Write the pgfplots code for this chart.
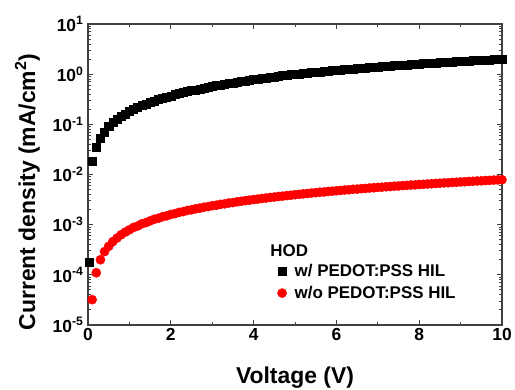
\documentclass[border=0pt]{standalone}
\usepackage{fontspec}
\setmainfont{Liberation Sans}
\usepackage{pgfplots}
\pgfplotsset{compat=1.18}
\begin{document}
\begin{tikzpicture}
\useasboundingbox (-88bp,-65bp) rectangle (427bp,325bp);
\begin{axis}[
  at={(0,0)}, anchor=south west,
  scale only axis, width=414bp, height=301bp,
  ymode=log, xmin=0, xmax=10, ymin=1e-5, ymax=10,
  xtick={0,2,4,6,8,10}, minor x tick num=1,
  ytick={1e-5,1e-4,1e-3,1e-2,1e-1,1,10},
  yticklabels={10\textsuperscript{-5},10\textsuperscript{-4},10\textsuperscript{-3},10\textsuperscript{-2},10\textsuperscript{-1},10\textsuperscript{0},10\textsuperscript{1}},
  tick align=inside,
  axis line style={black!75, line width=1.2bp},
  every tick/.style={black!75, line width=0.9bp},
  major tick length=5bp, minor tick length=3bp,
  tick label style={font=\fontsize{17.5}{20}\selectfont\bfseries},
  yticklabel style={xshift=-1bp},
  /pgf/number format/assume math mode=true,
  xlabel={Voltage (V)},
  ylabel={Current density (mA/cm\textsuperscript{2})},
  label style={font=\fontsize{23}{26}\selectfont\bfseries},
  xlabel style={at={(axis description cs:0.5,-0.193)}, anchor=base},
  ylabel style={at={(axis description cs:-0.128,0.442)}, anchor=base},
  legend style={at={(axis description cs:0.45,0.215)}, anchor=north west, draw=none, fill=none,
    font=\fontsize{17}{20}\selectfont\bfseries, row sep=4bp,
    /tikz/every odd column/.append style={column sep=6bp}},
  legend cell align=left,
]
\addplot[only marks, mark=square*, mark size=4bp, black] coordinates {
(0.02,1.8e-4)(0.1,0.018)(0.2,0.035)(0.3,0.053)(0.4,0.071)(0.5,0.090)(0.6,0.108)(0.7,0.126)(0.8,0.144)(0.9,0.162)(1.0,0.180)
(1.1,0.199)(1.2,0.217)(1.3,0.236)(1.4,0.255)(1.5,0.274)(1.6,0.293)(1.7,0.312)(1.8,0.331)(1.9,0.351)(2.0,0.370)
(2.1,0.390)(2.2,0.409)(2.3,0.429)(2.4,0.449)(2.5,0.469)(2.6,0.489)(2.7,0.509)(2.8,0.529)(2.9,0.550)(3.0,0.570)
(3.1,0.591)(3.2,0.611)(3.3,0.632)(3.4,0.653)(3.5,0.674)(3.6,0.695)(3.7,0.716)(3.8,0.737)(3.9,0.759)(4.0,0.780)
(4.1,0.802)(4.2,0.823)(4.3,0.845)(4.4,0.867)(4.5,0.889)(4.6,0.911)(4.7,0.933)(4.8,0.955)(4.9,0.978)(5.0,1.000)
(5.1,1.02)(5.2,1.04)(5.3,1.06)(5.4,1.08)(5.5,1.10)(5.6,1.12)(5.7,1.14)(5.8,1.16)(5.9,1.18)(6.0,1.20)
(6.1,1.22)(6.2,1.24)(6.3,1.26)(6.4,1.28)(6.5,1.30)(6.6,1.32)(6.7,1.34)(6.8,1.36)(6.9,1.38)(7.0,1.40)
(7.1,1.42)(7.2,1.44)(7.3,1.46)(7.4,1.48)(7.5,1.50)(7.6,1.52)(7.7,1.54)(7.8,1.56)(7.9,1.58)(8.0,1.60)
(8.1,1.62)(8.2,1.64)(8.3,1.66)(8.4,1.68)(8.5,1.70)(8.6,1.72)(8.7,1.74)(8.8,1.76)(8.9,1.78)(9.0,1.80)
(9.1,1.82)(9.2,1.84)(9.3,1.86)(9.4,1.88)(9.5,1.90)(9.6,1.92)(9.7,1.94)(9.8,1.96)(9.9,1.98)(10.0,2.00)
};
\addlegendentry{w/ PEDOT:PSS HIL}
\addplot[only marks, mark=*, mark size=4.6bp, red, mark options={draw=red, fill=red}] coordinates {
(0.1,3.2e-5)(0.2,1.1e-4)(0.3,2.0e-4)(0.4,2.9e-4)(0.5,3.7e-4)(0.6,4.6e-4)(0.7,5.4e-4)(0.8,6.3e-4)(0.9,7.1e-4)(1.0,7.9e-4)
(1.1,8.8e-4)(1.2,9.4e-4)(1.3,1.04e-3)(1.4,1.10e-3)(1.5,1.19e-3)(1.6,1.28e-3)(1.7,1.34e-3)(1.8,1.44e-3)(1.9,1.50e-3)(2.0,1.60e-3)
(2.1,1.66e-3)(2.2,1.76e-3)(2.3,1.82e-3)(2.4,1.92e-3)(2.5,1.98e-3)(2.6,2.07e-3)(2.7,2.13e-3)(2.8,2.23e-3)(2.9,2.29e-3)(3.0,2.39e-3)
(3.1,2.44e-3)(3.2,2.54e-3)(3.3,2.60e-3)(3.4,2.70e-3)(3.5,2.76e-3)(3.6,2.86e-3)(3.7,2.92e-3)(3.8,3.01e-3)(3.9,3.08e-3)(4.0,3.17e-3)
(4.1,3.23e-3)(4.2,3.33e-3)(4.3,3.39e-3)(4.4,3.49e-3)(4.5,3.55e-3)(4.6,3.65e-3)(4.7,3.70e-3)(4.8,3.80e-3)(4.9,3.86e-3)(5.0,3.96e-3)
(5.1,4.02e-3)(5.2,4.12e-3)(5.3,4.18e-3)(5.4,4.28e-3)(5.5,4.34e-3)(5.6,4.44e-3)(5.7,4.49e-3)(5.8,4.59e-3)(5.9,4.65e-3)(6.0,4.75e-3)
(6.1,4.81e-3)(6.2,4.91e-3)(6.3,4.97e-3)(6.4,5.07e-3)(6.5,5.12e-3)(6.6,5.22e-3)(6.7,5.28e-3)(6.8,5.38e-3)(6.9,5.44e-3)(7.0,5.54e-3)
(7.1,5.60e-3)(7.2,5.70e-3)(7.3,5.75e-3)(7.4,5.85e-3)(7.5,5.91e-3)(7.6,6.01e-3)(7.7,6.07e-3)(7.8,6.17e-3)(7.9,6.22e-3)(8.0,6.32e-3)
(8.1,6.38e-3)(8.2,6.48e-3)(8.3,6.54e-3)(8.4,6.64e-3)(8.5,6.70e-3)(8.6,6.80e-3)(8.7,6.85e-3)(8.8,6.95e-3)(8.9,7.01e-3)(9.0,7.11e-3)
(9.1,7.17e-3)(9.2,7.27e-3)(9.3,7.33e-3)(9.4,7.43e-3)(9.5,7.48e-3)(9.6,7.58e-3)(9.7,7.64e-3)(9.8,7.74e-3)(9.9,7.80e-3)(10.0,7.88e-3)
};
\addlegendentry{w/o PEDOT:PSS HIL}
\node[anchor=west, font=\fontsize{17}{20}\selectfont\bfseries, inner sep=0pt] at (axis description cs:0.44,0.246) {HOD};
\end{axis}
\end{tikzpicture}
\end{document}
